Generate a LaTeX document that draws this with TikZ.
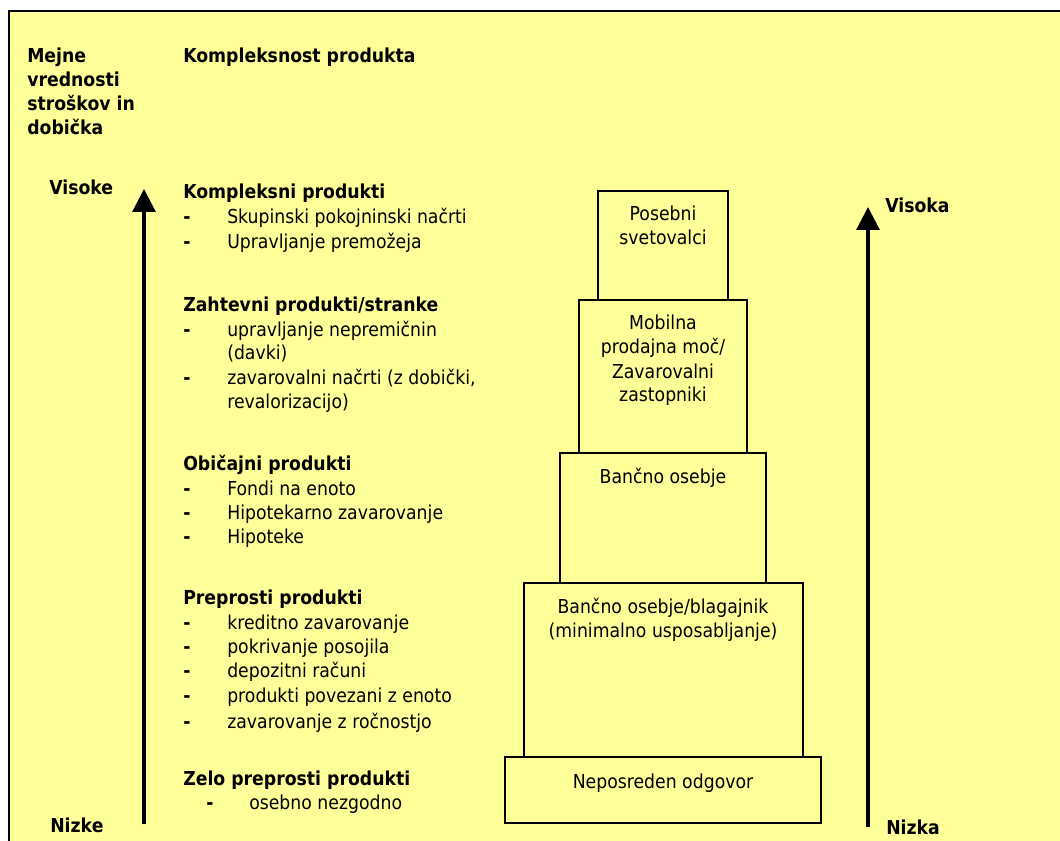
\documentclass[tikz,border=0pt]{standalone}
\usepackage{fontspec}
\setmainfont{DejaVu Sans}[FakeStretch=0.9]
\usetikzlibrary{arrows.meta}
\definecolor{bgyellow}{RGB}{255,255,153}
\tikzset{
  txt/.style={inner sep=0pt, anchor=base west, font=\fontsize{14.4}{18}\selectfont},
  bftxt/.style={txt, font=\fontsize{14.4}{18}\selectfont\bfseries},
  boxtxt/.style={inner sep=0pt, anchor=base, align=center, font=\fontsize{14.4}{18}\selectfont},
  boxline/.style={draw=black, line width=1.5pt},
  axis/.style={line width=2.4pt, -{Triangle[width=17.25pt,length=17.25pt]}}
}
\begin{document}
\begin{tikzpicture}[x=0.75pt,y=-0.75pt]
\useasboundingbox (0,0) rectangle (1060,841);
\clip (0,0) rectangle (1060,841);
\fill[white] (0,0) rectangle (1060,841);
\draw[line width=1.5pt, fill=bgyellow] (9,11) rectangle (1090,870);

% left axis labels (multi-line nodes: base = last line)
\node[bftxt, align=left] (mejne) at (27,135) {Mejne\\vrednosti\\stroškov in\\dobička};
\node[bftxt] (kompl) at (183,63) {Kompleksnost produkta};
\node[bftxt] (visoke) at (49,195) {Visoke};
\node[bftxt] (nizke) at (50,832) {Nizke};

% product groups
\node[bftxt] (g1) at (183,199) {Kompleksni produkti};
\node[bftxt] (d11) at (183,224) {-};
\node[txt] (i11) at (227,224) {Skupinski pokojninski načrti};
\node[bftxt] (d12) at (183,249) {-};
\node[txt] (i12) at (227,249) {Upravljanje premožeja};

\node[bftxt] (g2) at (183,312) {Zahtevni produkti/stranke};
\node[bftxt] (d21) at (183,337) {-};
\node[txt] (i21) at (227,337) {upravljanje nepremičnin};
\node[txt] (i21b) at (227,360) {(davki)};
\node[bftxt] (d22) at (183,385) {-};
\node[txt] (i22) at (227,385) {zavarovalni načrti (z dobički,};
\node[txt] (i22b) at (227,408) {revalorizacijo)};

\node[bftxt] (g3) at (183,470) {Običajni produkti};
\node[bftxt] (d31) at (183,495) {-};
\node[txt] (i31) at (227,495) {Fondi na enoto};
\node[bftxt] (d32) at (183,519) {-};
\node[txt] (i32) at (227,519) {Hipotekarno zavarovanje};
\node[bftxt] (d33) at (183,543) {-};
\node[txt] (i33) at (227,543) {Hipoteke};

\node[bftxt] (g4) at (183,604) {Preprosti produkti};
\node[bftxt] (d41) at (183,629) {-};
\node[txt] (i41) at (227,629) {kreditno zavarovanje};
\node[bftxt] (d42) at (183,653) {-};
\node[txt] (i42) at (227,653) {pokrivanje posojila};
\node[bftxt] (d43) at (183,677) {-};
\node[txt] (i43) at (227,677) {depozitni računi};
\node[bftxt] (d44) at (183,702) {-};
\node[txt] (i44) at (227,702) {produkti povezani z enoto};
\node[bftxt] (d45) at (183,728) {-};
\node[txt] (i45) at (227,728) {zavarovanje z ročnostjo};

\node[bftxt] (g5) at (183,785) {Zelo preprosti produkti};
\node[bftxt] (d51) at (206,809) {-};
\node[txt] (i51) at (249,809) {osebno nezgodno};

% axes
\coordinate (la0) at (144,824);
\coordinate (la1) at (144,189);
\draw[axis] (la0) -- (la1);
\coordinate (ra0) at (868,827);
\coordinate (ra1) at (868,207);
\draw[axis] (ra0) -- (ra1);
\node[bftxt] (visoka) at (885,213) {Visoka};
\node[bftxt] (nizka) at (886,834) {Nizka};

% pyramid
\draw[boxline] (598,191) rectangle (728,300);
\draw[boxline] (579,300) rectangle (747,453);
\draw[boxline] (560,453) rectangle (766,583);
\draw[boxline] (524,583) rectangle (803,757);
\draw[boxline] (505,757) rectangle (821,823);

\node[boxtxt] (b1) at (663,245) {Posebni\\svetovalci};
\node[boxtxt] (b2) at (663,402) {Mobilna\\prodajna moč/\\Zavarovalni\\zastopniki};
\node[boxtxt] (b3) at (663,483) {Bančno osebje};
\node[boxtxt] (b4) at (663,637) {Bančno osebje/blagajnik\\(minimalno usposabljanje)};
\node[boxtxt] (b5) at (663,788) {Neposreden odgovor};
\end{tikzpicture}
\end{document}
